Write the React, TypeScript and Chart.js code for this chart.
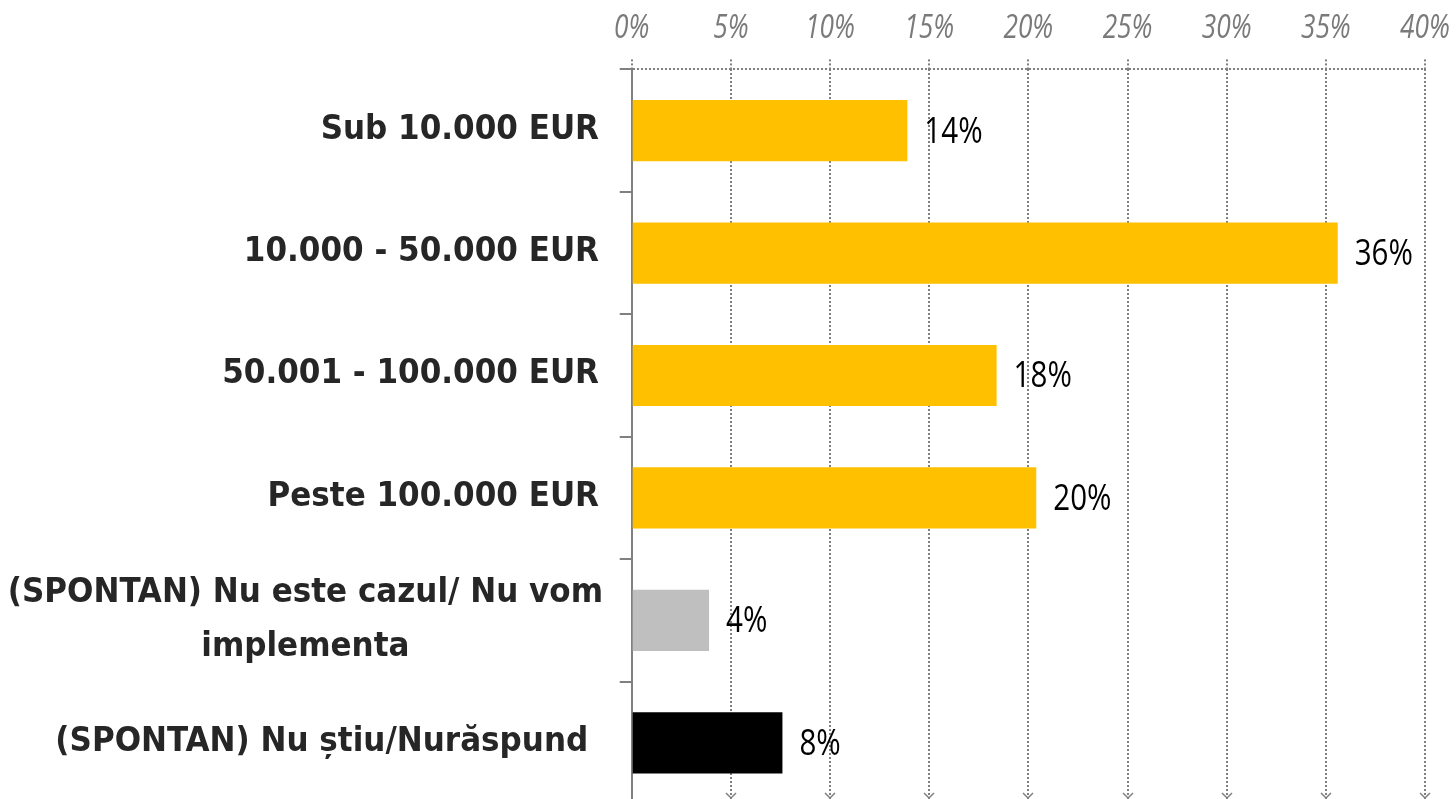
import React, { useEffect, useRef } from 'react';
import { Chart, registerables } from 'chart.js';

Chart.register(...registerables);

const categories: (string | string[])[] = [
  'Sub 10.000 EUR',
  '10.000 - 50.000 EUR',
  '50.001 - 100.000 EUR',
  'Peste 100.000 EUR',
  ['(SPONTAN) Nu este cazul/ Nu vom', 'implementa'],
  '(SPONTAN) Nu știu/Nurăspund ',
];
const values = [13.9, 35.6, 18.4, 20.4, 3.9, 7.6];
const valueLabels = ['14%', '36%', '18%', '20%', '4%', '8%'];
const barColors = ['#FFC000', '#FFC000', '#FFC000', '#FFC000', '#BFBFBF', '#000000'];
const axisMin = 0;
const axisMax = 40;
const axisStep = 5;

const GRID = '#808080';
const SQUEEZE = 0.82;

const labelPlugin = {
  id: 'customLabels',
  afterDraw(chart: any) {
    const ctx = chart.ctx as CanvasRenderingContext2D;
    const ys = chart.scales.y;
    const xs = chart.scales.x;
    const meta = chart.getDatasetMeta(0);
    ctx.save();
    // category labels
    ctx.font = 'bold 34.5px "DejaVu Sans Condensed", "DejaVu Sans", sans-serif';
    ctx.fillStyle = '#262626';
    ctx.textBaseline = 'middle';
    ctx.textAlign = 'center';
    const lh = 54;
    categories.forEach((c, i) => {
      const lines = Array.isArray(c) ? c : [c];
      const right = lines.length > 1 ? 603 : 599;
      const cy = ys.getPixelForValue(i) - 1 + (lines.length > 1 ? 1 : 0);
      const blockW = Math.max(...lines.map((l) => ctx.measureText(l).width));
      lines.forEach((l, j) => {
        const ly = cy + (j - (lines.length - 1) / 2) * lh;
        ctx.fillText(l, right - blockW / 2, ly);
      });
    });
    // value labels
    ctx.font = '36px "Open Sans", sans-serif';
    ctx.fillStyle = '#000000';
    ctx.textAlign = 'left';
    ctx.textBaseline = 'alphabetic';
    meta.data.forEach((bar: any, i: number) => {
      ctx.save();
      ctx.translate(bar.x + 17, bar.y + 12);
      ctx.scale(SQUEEZE, 1);
      ctx.fillText(valueLabels[i], 0, 0);
      ctx.restore();
    });
    // x tick labels (top)
    ctx.font = 'italic 32px "Open Sans", sans-serif';
    ctx.fillStyle = '#7a7a7a';
    ctx.textAlign = 'center';
    xs.ticks.forEach((t: any) => {
      const px = xs.getPixelForValue(t.value);
      ctx.save();
      ctx.translate(px, 38);
      ctx.scale(SQUEEZE, 1);
      ctx.fillText(t.value + '%', 0, 0);
      ctx.restore();
    });
    // arrowheads on grid line ends
    ctx.strokeStyle = GRID;
    ctx.lineWidth = 1.5;
    xs.ticks.forEach((t: any) => {
      if (t.value === axisMin) return;
      const px = Math.round(xs.getPixelForValue(t.value));
      const tip = 798;
      ctx.beginPath();
      ctx.moveTo(px - 5, tip - 5);
      ctx.lineTo(px, tip);
      ctx.lineTo(px + 5, tip - 5);
      ctx.stroke();
    });
    ctx.restore();
  },
};

export default function App() {
  const ref = useRef<HTMLCanvasElement | null>(null);
  useEffect(() => {
    if (!ref.current) return;
    const chart = new Chart(ref.current, {
      type: 'bar',
      data: {
        labels: categories as any,
        datasets: [
          {
            data: values,
            backgroundColor: barColors,
            barPercentage: 0.5,
            categoryPercentage: 1,
          },
        ],
      },
      options: {
        indexAxis: 'y',
        animation: false,
        responsive: false,
        layout: { padding: { left: 0, right: 31, top: 0, bottom: 0 } },
        plugins: { legend: { display: false }, tooltip: { enabled: false } },
        scales: {
          x: {
            position: 'top',
            min: axisMin,
            max: axisMax,
            ticks: { display: false, stepSize: axisStep },
            grid: {
              color: GRID,
              lineWidth: 2,
              tickLength: 10,
              tickColor: GRID,
              tickWidth: 2,
              tickBorderDash: [2, 2],
            },
            border: { display: false, dash: [2, 2] },
            afterFit: (s: any) => {
              s.height = 69.4;
            },
          },
          y: {
            z: 1,
            ticks: { display: false },
            grid: {
              offset: true,
              drawOnChartArea: true,
              color: (c: any) => (c.index === 0 ? GRID : 'rgba(0,0,0,0)'),
              lineWidth: 2,
              tickLength: 12,
              tickColor: GRID,
              tickWidth: 2,
            },
            border: { display: true, color: GRID, width: 2, dash: [2, 2] },
            afterFit: (s: any) => {
              s.width = 631.7;
            },
          },
        },
      } as any,
      plugins: [labelPlugin],
    });
    return () => chart.destroy();
  }, []);
  return (
    <div style={{ position: 'fixed', left: 0, top: 0, width: 1456, height: 804, background: '#fff' }}>
      <canvas ref={ref} width={1456} height={804} />
    </div>
  );
}
